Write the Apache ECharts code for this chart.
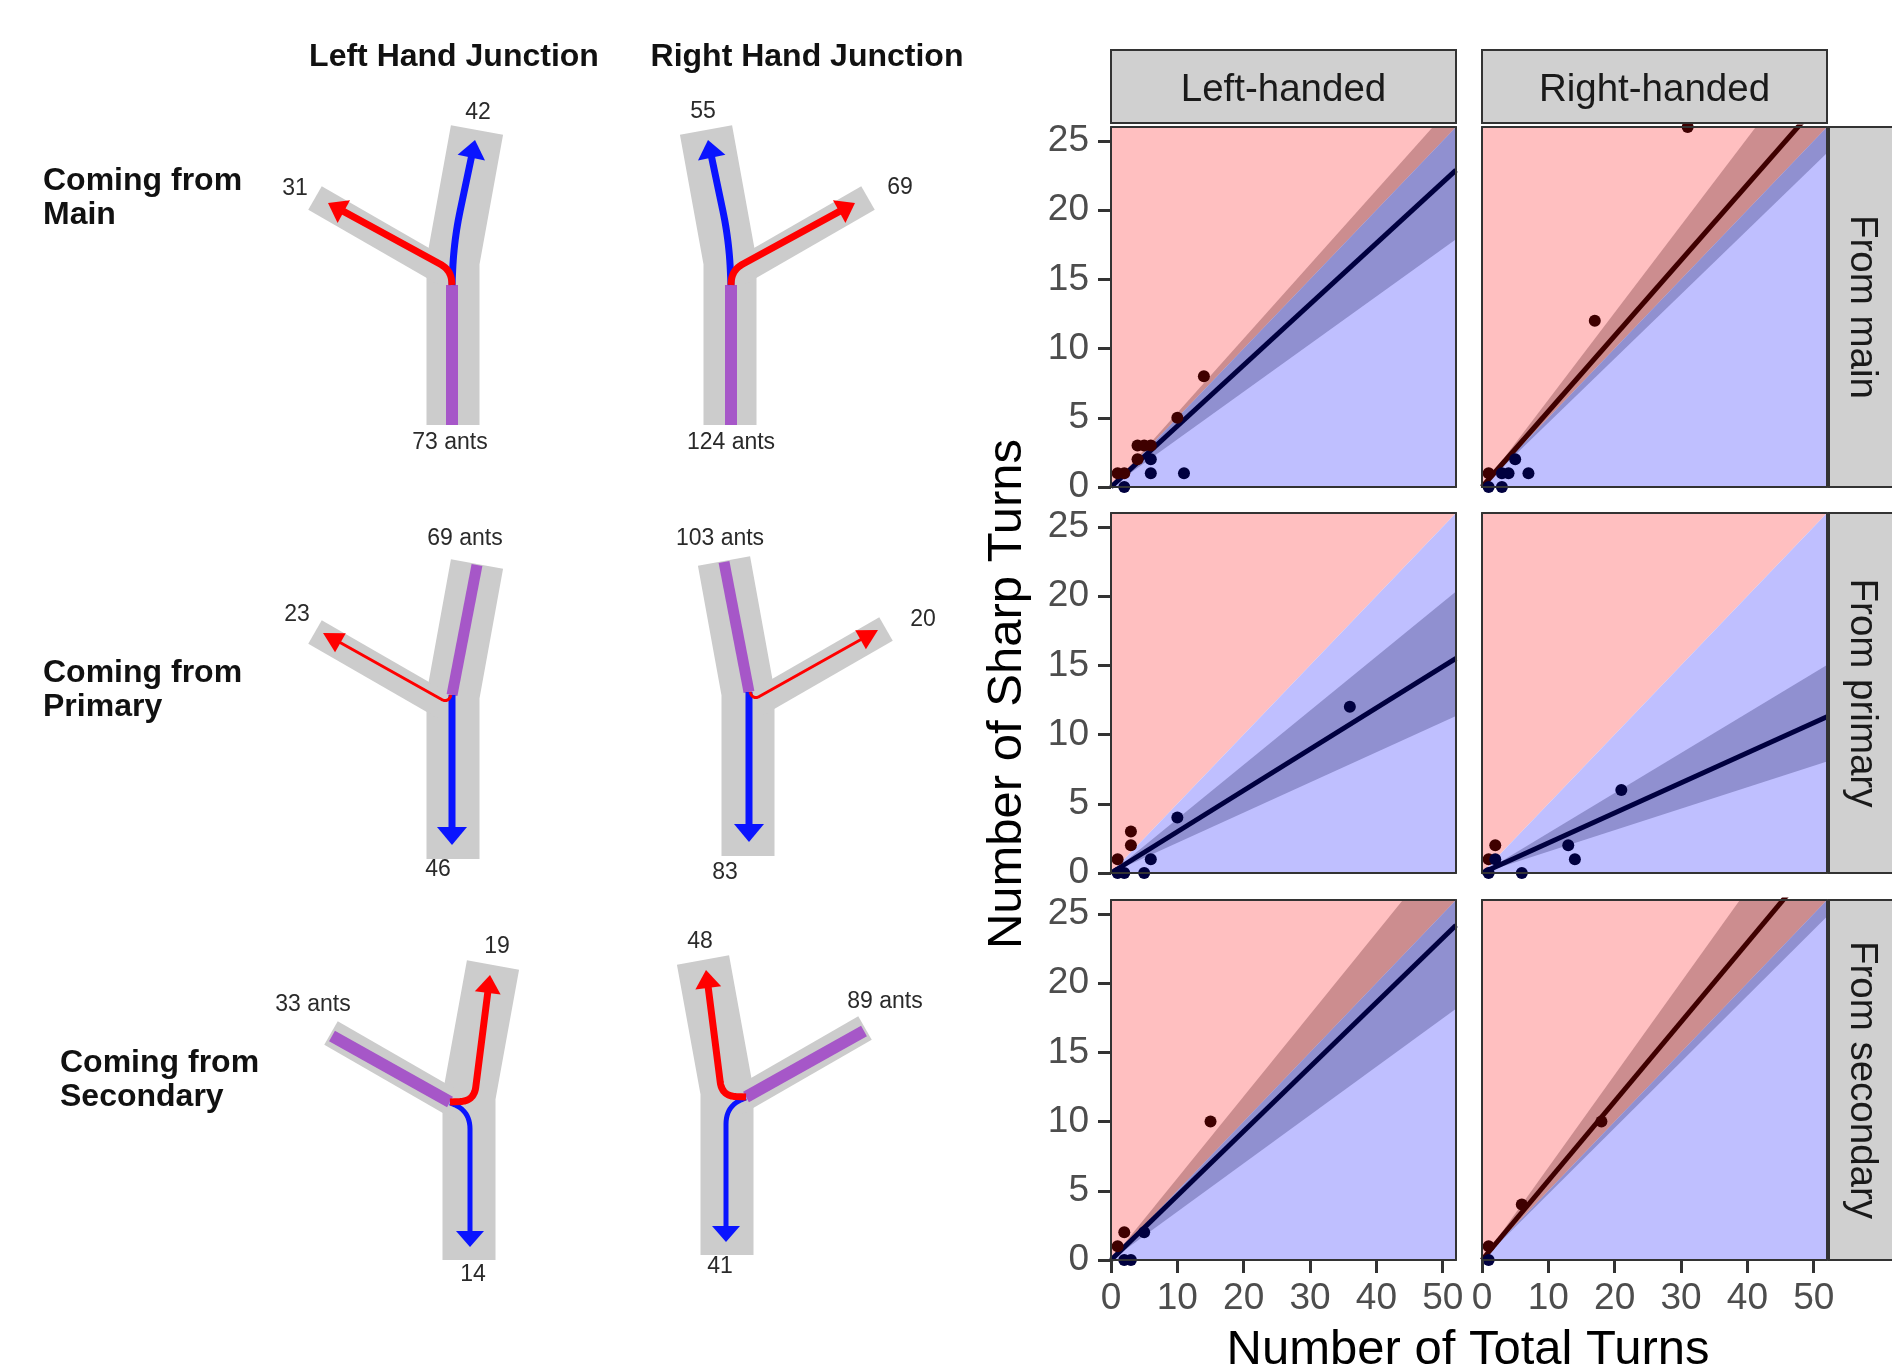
<!DOCTYPE html>
<html><head><meta charset="utf-8">
<script src="https://cdn.jsdelivr.net/npm/echarts@6/dist/echarts.min.js"></script>
<style>html,body{margin:0;padding:0;background:#fff}#c{width:1892px;height:1371px}</style>
</head><body><div id="c"></div>
<script>
// ================= DATA =================
const handedness = ['Left-handed', 'Right-handed'];
const origins = ['From main', 'From primary', 'From secondary'];
const xTicks = [0, 10, 20, 30, 40, 50];
const yTicks = [0, 5, 10, 15, 20, 25];
const xMax = 52, yMax = 26;
const nullSlope = 0.5;               // sharp = half of total
// fitted slope and CI per [origin row][handedness col]
const fitSlope = [[0.44, 0.546], [0.298, 0.217], [0.465, 0.573]];
const ciLow    = [[0.344, 0.464], [0.218, 0.155], [0.349, 0.477]];
const ciHigh   = [[0.536, 0.63], [0.391, 0.289], [0.591, 0.669]];
// points [total, sharp]
const redPts = [
  [[[1,1],[2,1],[4,2],[4,3],[5,3],[6,3],[10,5],[14,8]], [[1,1],[17,12],[31,26]]],
  [[[1,1],[3,2],[3,3]], [[1,1],[2,2]]],
  [[[1,1],[2,2],[15,10]], [[1,1],[6,4],[18,10]]]
];
const navyPts = [
  [[[2,0],[6,1],[6,2],[11,1]], [[1,0],[3,0],[3,1],[4,1],[5,2],[7,1]]],
  [[[1,0],[2,0],[5,0],[6,1],[10,4],[36,12]], [[1,0],[2,1],[6,0],[13,2],[14,1],[21,6]]],
  [[[2,0],[3,0],[5,2]], [[1,0]]]
];
// diagram data
const junctionTitles = ['Left Hand Junction', 'Right Hand Junction'];
const rowTitles = ['Coming from\nMain', 'Coming from\nPrimary', 'Coming from\nSecondary'];
const antsIn   = [[73, 124], [69, 103], [33, 89]];
const redOut   = [[31, 69], [23, 20], [19, 48]];
const blueOut  = [[42, 55], [46, 83], [14, 41]];

// ================= STYLE / LAYOUT =================
const FF = '"Liberation Sans", Arial, Helvetica, sans-serif';
const fills = ['#FFBFC0', '#BFBFFF', '#CC8D8F', '#9090D0'];
const RED = '#3F0000', NAVY = '#00003F';
const colLeft = [1111, 1482], colW = 345;
const rowTop = [127, 513, 900], rowH = 360;

const grids = [], xAxes = [], yAxes = [], series = [];
function wedgeRender(params, api) {
  const s1 = api.value(2), s2 = api.value(3), k = api.value(4);
  const cs = yMax / xMax;
  const E = s => (s * xMax <= yMax) ? [xMax, s * xMax] : [yMax / s, yMax];
  const pts = [[0, 0], E(s1)];
  if (s1 < cs && s2 > cs) pts.push([xMax, yMax]);
  pts.push(E(s2));
  return { type: 'polygon', shape: { points: pts.map(p => api.coord(p)) }, style: { fill: fills[k] }, silent: true };
}
const axLine = { show: true, onZero: false, lineStyle: { color: '#333', width: 2 } };
for (let r = 0; r < 3; r++) {
  for (let c = 0; c < 2; c++) {
    const g = r * 2 + c;
    const isBottom = r === 2, isLeft = c === 0;
    grids.push({ left: colLeft[c], top: rowTop[r], width: colW, height: rowH });
    xAxes.push({ gridIndex: g, type: 'value', min: 0, max: xMax, interval: 10, position: 'bottom', z: 10,
      axisLine: axLine,
      axisTick: { show: isBottom, length: 13, customValues: xTicks, lineStyle: { color: '#333', width: 3 } },
      axisLabel: { show: isBottom, customValues: xTicks, margin: 20, fontSize: 37, color: '#4D4D4D', fontFamily: FF,
        formatter: v => xTicks.includes(v) ? String(v) : '' },
      splitLine: { show: false } });
    xAxes.push({ gridIndex: g, type: 'value', min: 0, max: xMax, position: 'top', z: 10,
      axisLine: axLine, axisTick: { show: false }, axisLabel: { show: false }, splitLine: { show: false } });
    yAxes.push({ gridIndex: g, type: 'value', min: 0, max: yMax, interval: 5, position: 'left', z: 10,
      axisLine: axLine,
      axisTick: { show: isLeft, length: 13, customValues: yTicks, lineStyle: { color: '#333', width: 3 } },
      axisLabel: { show: isLeft, customValues: yTicks, margin: 22, fontSize: 37, color: '#4D4D4D', fontFamily: FF,
        formatter: v => yTicks.includes(v) ? String(v) : '' },
      splitLine: { show: false } });
    yAxes.push({ gridIndex: g, type: 'value', min: 0, max: yMax, position: 'right', z: 10,
      axisLine: axLine, axisTick: { show: false }, axisLabel: { show: false }, splitLine: { show: false } });
    const xi = 2 * g, yi = 2 * g;
    const lo = ciLow[r][c], hi = ciHigh[r][c], b = fitSlope[r][c];
    const wedges = [[0, 0, nullSlope, 1e9, 0], [0, 0, 0, nullSlope, 1]];
    if (hi > nullSlope) wedges.push([0, 0, Math.max(lo, nullSlope), hi, 2]);
    if (lo < nullSlope) wedges.push([0, 0, lo, Math.min(hi, nullSlope), 3]);
    series.push({ type: 'custom', xAxisIndex: xi, yAxisIndex: yi, encode: { x: 0, y: 1 }, z: 1, silent: true,
      data: wedges, renderItem: wedgeRender });
    series.push({ type: 'line', xAxisIndex: xi, yAxisIndex: yi, z: 3, symbol: 'none', silent: true, clip: true,
      data: [[0, 0], [xMax, b * xMax]], lineStyle: { color: b > nullSlope ? RED : NAVY, width: 5 } });
    series.push({ type: 'scatter', xAxisIndex: xi, yAxisIndex: yi, z: 4, symbolSize: 12, silent: true,
      data: redPts[r][c], itemStyle: { color: RED, opacity: 1 } });
    series.push({ type: 'scatter', xAxisIndex: xi, yAxisIndex: yi, z: 4, symbolSize: 12, silent: true,
      data: navyPts[r][c], itemStyle: { color: NAVY, opacity: 1 } });
  }
}

// ================= GRAPHICS (strips, titles, diagrams) =================
const graphics = [];
function txt(x, y, text, font, fill, align, rot, lh) {
  graphics.push({ type: 'text', x: x, y: y, rotation: rot || 0, silent: true, z: 50,
    style: { text: text, font: font, fill: fill, align: align || 'center', verticalAlign: 'middle',
      textAlign: align || 'center', textVerticalAlign: 'middle', lineHeight: lh } });
}
for (let c = 0; c < 2; c++) {
  graphics.push({ type: 'rect', silent: true, z: 40, shape: { x: colLeft[c], y: 50, width: colW, height: 73 },
    style: { fill: '#D0D0D0', stroke: '#333', lineWidth: 2 } });
  txt(colLeft[c] + colW / 2, 90, handedness[c], '38.5px ' + FF, '#1A1A1A');
}
for (let r = 0; r < 3; r++) {
  graphics.push({ type: 'rect', silent: true, z: 40, shape: { x: 1829, y: rowTop[r], width: 80, height: rowH },
    style: { fill: '#D0D0D0', stroke: '#333', lineWidth: 2 } });
  txt(1862, rowTop[r] + rowH / 2, origins[r], '38.5px ' + FF, '#1A1A1A', 'center', -Math.PI / 2);
}
txt(1468, 1350, 'Number of Total Turns', '49px ' + FF, '#000');
txt(1007, 694, 'Number of Sharp Turns', '49px ' + FF, '#000', 'center', Math.PI / 2);

// diagram geometry template (left-hand junction, relative to junction point)
const roadMain = [[0, 163], [0, 0], [24, -132]], roadSide = [[-6, 12], [-138, -64]];
const flowTpl = [
  { purple: [[-1, 163], [-1, 23]], wp: 12,
    red: { pts: [[-1, 23], [-2, 8], [-125, -59]], r: 12, w: 7, L: 18, W: 13 },
    blue: { pts: [[-1, 23], [1, -22], [22, -122]], r: 30, w: 7, L: 18, W: 14 } },
  { purple: [[24, -131], [-1, -1]], wp: 11,
    red: { pts: [[-2, -1], [-5, 7], [-130, -63]], r: 8, w: 3, L: 20, W: 11 },
    blue: { pts: [[-1, -1], [-1, 149]], r: 0, w: 7, L: 18, W: 15 } },
  { purple: [[-137, -61], [-19, 5]], wp: 12,
    red: { pts: [[-19, 5], [5, 4], [21, -122]], r: 14, w: 7, L: 18, W: 13 },
    blue: { pts: [[-19, 6], [1, 13], [1, 150]], r: 20, w: 5, L: 16, W: 14 } }
];
const junctions = [[[453, 262], [730, 262]], [[453, 696], [748, 693]], [[469, 1097], [727, 1092]]];
const labelPos = [
  [{ blue: [478, 113], red: [295, 189], ants: [450, 443] }, { blue: [703, 112], red: [900, 188], ants: [731, 443] }],
  [{ ants: [465, 539], red: [297, 615], blue: [438, 870] }, { ants: [720, 539], red: [923, 620], blue: [725, 873] }],
  [{ red: [497, 947], ants: [313, 1005], blue: [473, 1275] }, { red: [700, 942], ants: [885, 1002], blue: [720, 1267] }]
];
const sub = (a, b) => [a[0] - b[0], a[1] - b[1]];
const len = v => Math.hypot(v[0], v[1]);
const unit = v => { const l = len(v) || 1; return [v[0] / l, v[1] / l]; };
function rounded(pts, r) {
  const out = [pts[0]];
  for (let i = 1; i < pts.length - 1; i++) {
    const p0 = pts[i - 1], p1 = pts[i], p2 = pts[i + 1];
    const d1 = unit(sub(p1, p0)), d2 = unit(sub(p2, p1));
    const rr = Math.min(r, len(sub(p1, p0)) * 0.9, len(sub(p2, p1)) * 0.5);
    if (rr <= 0) { out.push(p1); continue; }
    const a = [p1[0] - d1[0] * rr, p1[1] - d1[1] * rr], b = [p1[0] + d2[0] * rr, p1[1] + d2[1] * rr];
    for (let k = 0; k <= 12; k++) {
      const t = k / 12, u = 1 - t;
      out.push([u * u * a[0] + 2 * u * t * p1[0] + t * t * b[0], u * u * a[1] + 2 * u * t * p1[1] + t * t * b[1]]);
    }
  }
  out.push(pts[pts.length - 1]);
  return out;
}
function arrow(P, spec, color) {
  const pts = spec.pts.map(P);
  const tip = pts[pts.length - 1], prev = pts[pts.length - 2];
  const d = unit(sub(tip, prev));
  const base = [tip[0] - d[0] * spec.L, tip[1] - d[1] * spec.L];
  pts[pts.length - 1] = [base[0] + d[0] * 3, base[1] + d[1] * 3];
  const nrm = [-d[1], d[0]];
  graphics.push({ type: 'polyline', silent: true, z: 12, shape: { points: rounded(pts, spec.r) },
    style: { stroke: color, lineWidth: spec.w, fill: null, lineJoin: 'round', lineCap: 'butt' } });
  graphics.push({ type: 'polygon', silent: true, z: 13, shape: { points: [tip,
    [base[0] + nrm[0] * spec.W, base[1] + nrm[1] * spec.W], [base[0] - nrm[0] * spec.W, base[1] - nrm[1] * spec.W]] },
    style: { fill: color } });
}
for (let c = 0; c < 2; c++) txt([454, 807][c], 57, junctionTitles[c], 'bold 32px ' + FF, '#111');
const rowTitleX = [43, 43, 60], rowTitleY = [198, 690, 1080];
for (let r = 0; r < 3; r++) {
  txt(rowTitleX[r], rowTitleY[r], rowTitles[r], 'bold 32px ' + FF, '#111', 'left', 0, 34);
  for (let c = 0; c < 2; c++) {
    const J = junctions[r][c], m = c === 1 ? -1 : 1;
    const P = p => [J[0] + m * p[0], J[1] + p[1]];
    graphics.push({ type: 'polyline', silent: true, z: 10, shape: { points: roadMain.map(P) },
      style: { stroke: '#CCCCCC', lineWidth: 53, fill: null, lineJoin: 'miter', lineCap: 'butt' } });
    graphics.push({ type: 'polyline', silent: true, z: 10, shape: { points: roadSide.map(P) },
      style: { stroke: '#CCCCCC', lineWidth: 27, fill: null, lineCap: 'butt' } });
    const f = flowTpl[r];
    graphics.push({ type: 'polyline', silent: true, z: 11, shape: { points: f.purple.map(P) },
      style: { stroke: '#A657C8', lineWidth: f.wp, fill: null, lineCap: 'butt' } });
    arrow(P, f.blue, '#0A14FF');
    arrow(P, f.red, '#FF0000');
    const lp = labelPos[r][c];
    txt(lp.ants[0], lp.ants[1], antsIn[r][c] + ' ants', '23px ' + FF, '#2A2A2A');
    txt(lp.red[0], lp.red[1], String(redOut[r][c]), '23px ' + FF, '#2A2A2A');
    txt(lp.blue[0], lp.blue[1], String(blueOut[r][c]), '23px ' + FF, '#2A2A2A');
  }
}

const chart = echarts.init(document.getElementById('c'), null, { renderer: 'canvas', width: 1892, height: 1371 });
chart.setOption({
  animation: false,
  backgroundColor: '#ffffff',
  grid: grids, xAxis: xAxes, yAxis: yAxes, series: series,
  graphic: { elements: graphics }
});
</script>
</body></html>
